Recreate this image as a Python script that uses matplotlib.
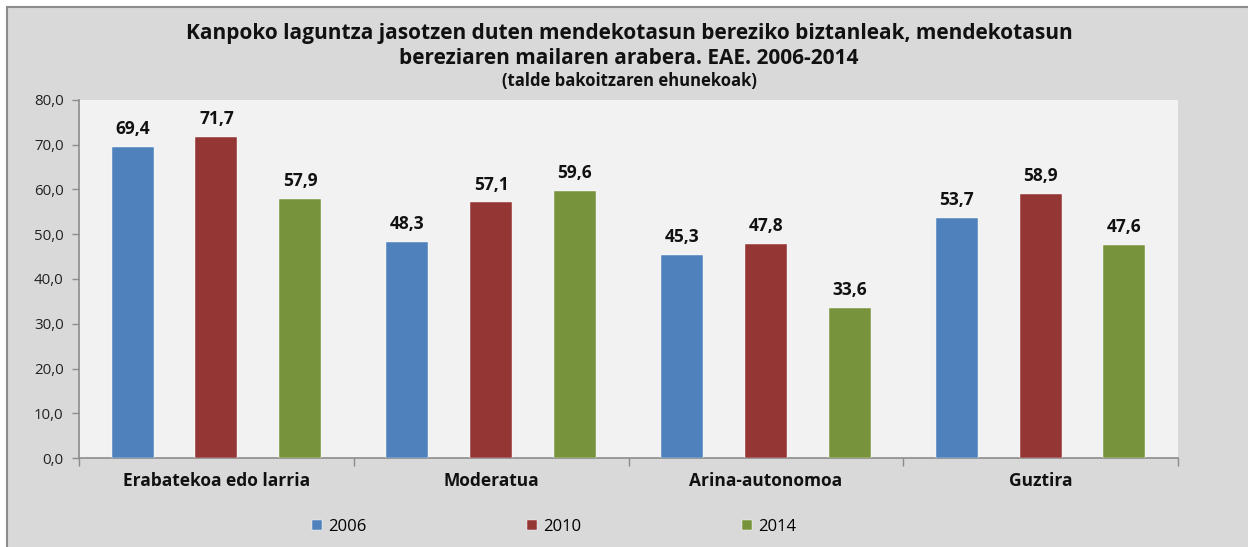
import numpy as np
import matplotlib
matplotlib.use("Agg")
import matplotlib.pyplot as plt
from matplotlib.patches import Rectangle

# Data
categories = ["Erabatekoa edo larria", "Moderatua", "Arina-autonomoa", "Guztira"]
years = ["2006", "2010", "2014"]
values_2006 = [69.4, 48.3, 45.3, 53.7]
values_2010 = [71.7, 57.1, 47.8, 58.9]
values_2014 = [57.9, 59.6, 33.6, 47.6]
colors = ["#4F81BD", "#943634", "#77933C"]

plt.rcParams['font.family'] = ['Open Sans', 'DejaVu Sans']

W, H = 1248, 547
fig = plt.figure(figsize=(W / 100, H / 100), dpi=100)
fig.patch.set_facecolor("white")

# grey chart area with a darker border on the left/top edge
fig.add_artist(Rectangle((7 / W, -0.01), 1.0, (H - 7) / H + 0.01, transform=fig.transFigure,
                         facecolor="#D9D9D9", edgecolor="#8C8C8C", lw=1.5, zorder=-10))

ax = fig.add_axes([79 / W, (H - 458) / H, (1178 - 79) / W, (458 - 100) / H])
ax.set_facecolor("#F2F2F2")

x = np.arange(len(categories))
width = 0.153
offset = 0.305
series = [values_2006, values_2010, values_2014]
for i, (vals, col, yr) in enumerate(zip(series, colors, years)):
    pos = x + (i - 1) * offset
    ax.bar(pos, vals, width=width, color=col, label=yr, zorder=3,
           edgecolor="#ffffff", linewidth=0.3)
    for p, v in zip(pos, vals):
        ax.text(p, v + 2.0, f"{v:.1f}".replace(".", ","), ha="center", va="bottom",
                fontsize=12.5, fontweight="bold", color="#111111")

ax.set_ylim(0, 80)
ax.set_xlim(-0.5, len(categories) - 0.5)
ax.set_yticks(np.arange(0, 81, 10))
ax.set_yticklabels([f"{v:.1f}".replace(".", ",") for v in np.arange(0, 81, 10)],
                   fontsize=10.8, color="#222222")

# category labels centered, ticks at boundaries
ax.set_xticks(x)
ax.set_xticklabels(categories, fontsize=12.5, fontweight="bold", color="#111111")
ax.tick_params(axis="x", length=0, pad=10)
ax.set_xticks(np.arange(-0.5, len(categories)), minor=True)
ax.tick_params(axis="x", which="minor", length=6, color="#8C8C8C", width=1)
ax.tick_params(axis="y", length=5, color="#8C8C8C", width=1, pad=6)

for s in ["top", "right"]:
    ax.spines[s].set_visible(False)
for s in ["left", "bottom"]:
    ax.spines[s].set_color("#8C8C8C")
    ax.spines[s].set_linewidth(1.2)

# title
fig.text(629 / W, 1 - 33 / H, "Kanpoko laguntza jasotzen duten mendekotasun bereziko biztanleak, mendekotasun",
         ha="center", va="center", fontsize=15, fontweight="bold", color="#111111")
fig.text(629 / W, 1 - 58 / H, "bereziaren mailaren arabera. EAE. 2006-2014",
         ha="center", va="center", fontsize=15, fontweight="bold", color="#111111")
fig.text(629 / W, 1 - 81 / H, "(talde bakoitzaren ehunekoak)",
         ha="center", va="center", fontsize=12, fontweight="bold", color="#111111")

fig.legend(loc="center", bbox_to_anchor=(554 / W, 1 - 527 / H), ncol=3, frameon=False,
           fontsize=12, handlelength=0.6, handleheight=0.6, handletextpad=0.4,
           columnspacing=9.6)

fig.savefig("out.png", dpi=100)
